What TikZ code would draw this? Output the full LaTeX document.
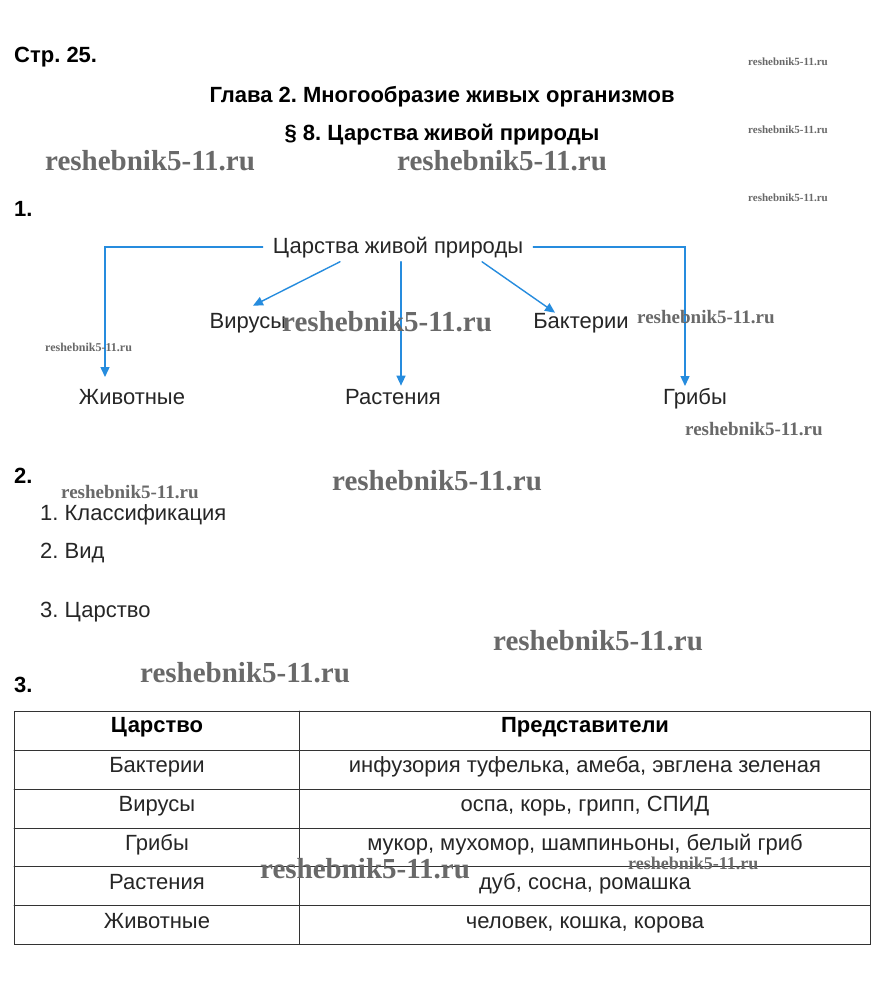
\documentclass[tikz,border=0pt]{standalone}
\usepackage{fontspec}
\setmainfont{Liberation Sans}
\newfontfamily\wmfont{Liberation Serif}
\usetikzlibrary{arrows.meta}
\definecolor{arrblue}{RGB}{38,140,222}
\definecolor{wmgray}{RGB}{105,105,105}
\frenchspacing

% watermark: name, x, y, font size
\newcommand{\wmark}[4]{\node[wm, font=\wmfont\bfseries\fontsize{#4}{#4}\selectfont] (#1) at (#2,#3) {reshebnik5-11.ru};}

\begin{document}
\begin{tikzpicture}[x=1pt, y=-1pt, >={Triangle[width=9pt,length=10pt]}, line cap=round,
  txt/.style={font=\fontsize{22}{26}\selectfont, text=black!85, inner sep=0pt, anchor=base},
  hd/.style={font=\fontsize{22}{26}\selectfont\bfseries, inner sep=0pt, anchor=base},
  link/.style={->, arrblue, line width=1.4pt},
  wm/.style={text=wmgray, inner sep=0pt, anchor=west}]

\useasboundingbox[fill=white] (0,0) rectangle (882,990);

% Titoli
\node[hd, anchor=base west] (page) at (14,63) {Стр. 25.};
\node[hd] (chap) at (442,102) {Глава 2. Многообразие живых организмов};
\node[hd] (para) at (442,140) {§ 8. Царства живой природы};

% Esercizio 1
\node[hd, anchor=base west] (ex1) at (14,216) {1.};
\node[txt] (root) at (398,253) {Царства живой природы};
\node[txt] (vir) at (248,328) {Вирусы};
\node[txt] (bak) at (581,328) {Бактерии};
\node[txt] (zhiv) at (132,404) {Животные};
\node[txt] (rast) at (393,404) {Растения};
\node[txt] (grib) at (695,404) {Грибы};

% Punte delle frecce laterali
\coordinate (zhivtip) at (105,377);
\coordinate (gribtip) at (685,386);

\draw[link] ([xshift=-10pt]root.west) -| (zhivtip);
\draw[link] ([xshift=10pt]root.east) -| (gribtip);
\draw[link] ([xshift=-58pt,yshift=-4pt]root.south) -- ([xshift=5pt,yshift=7pt]vir.north);
\draw[link] ([xshift=3pt,yshift=-4pt]root.south) -- ([xshift=8pt,yshift=3pt]rast.north);
\draw[link] ([xshift=84pt,yshift=-4pt]root.south) -- ([xshift=-26pt,yshift=0pt]bak.north);

% Esercizio 2
\node[hd, anchor=base west] (ex2) at (14,483) {2.};
\node[txt, anchor=base west] (l1) at (40,520) {1. Классификация};
\node[txt, anchor=base west] (l2) at (40,558) {2. Вид};
\node[txt, anchor=base west] (l3) at (40,617) {3. Царство};

% Esercizio 3 (tabella)
\node[hd, anchor=base west] (ex3) at (14,692) {3.};
\draw[black!80, line width=0.9pt] (14,711) rectangle (870,944);
\draw[black!80, line width=0.6pt] (299,711) -- (299,944);
\foreach \y in {750,789,828,866,905}
  \draw[black!80, line width=0.9pt] (14,\y) -- (870,\y);

\node[hd] (hkin) at (157,732) {Царство};
\node[hd] (hrep) at (585,732) {Представители};
\foreach \k/\r [count=\i] in {Бактерии/{инфузория туфелька, амеба, эвглена зеленая},
    Вирусы/{оспа, корь, грипп, СПИД},
    Грибы/{мукор, мухомор, шампиньоны, белый гриб},
    Растения/{дуб, сосна, ромашка},
    Животные/{человек, кошка, корова}} {
  \node[txt] (kin\i) at (157,{733+39*\i}) {\k};
  \node[txt] (rep\i) at (585,{733+39*\i}) {\r};
}

% Filigrane
\wmark{w1}{748}{62}{11}
\wmark{w2}{748}{130}{11}
\wmark{w3}{748}{198}{11}
\wmark{w4}{45}{161}{29}
\wmark{w5}{397}{161}{29}
\wmark{w6}{282}{322}{29}
\wmark{w7}{637}{317}{19}
\wmark{w8}{45}{347}{12}
\wmark{w9}{685}{429}{19}
\wmark{w10}{332}{481}{29}
\wmark{w11}{61}{492}{19}
\wmark{w12}{493}{641}{29}
\wmark{w13}{140}{673}{29}
\wmark{w14}{260}{869}{29}
\wmark{w15}{628}{863}{18}

\end{tikzpicture}
\end{document}
